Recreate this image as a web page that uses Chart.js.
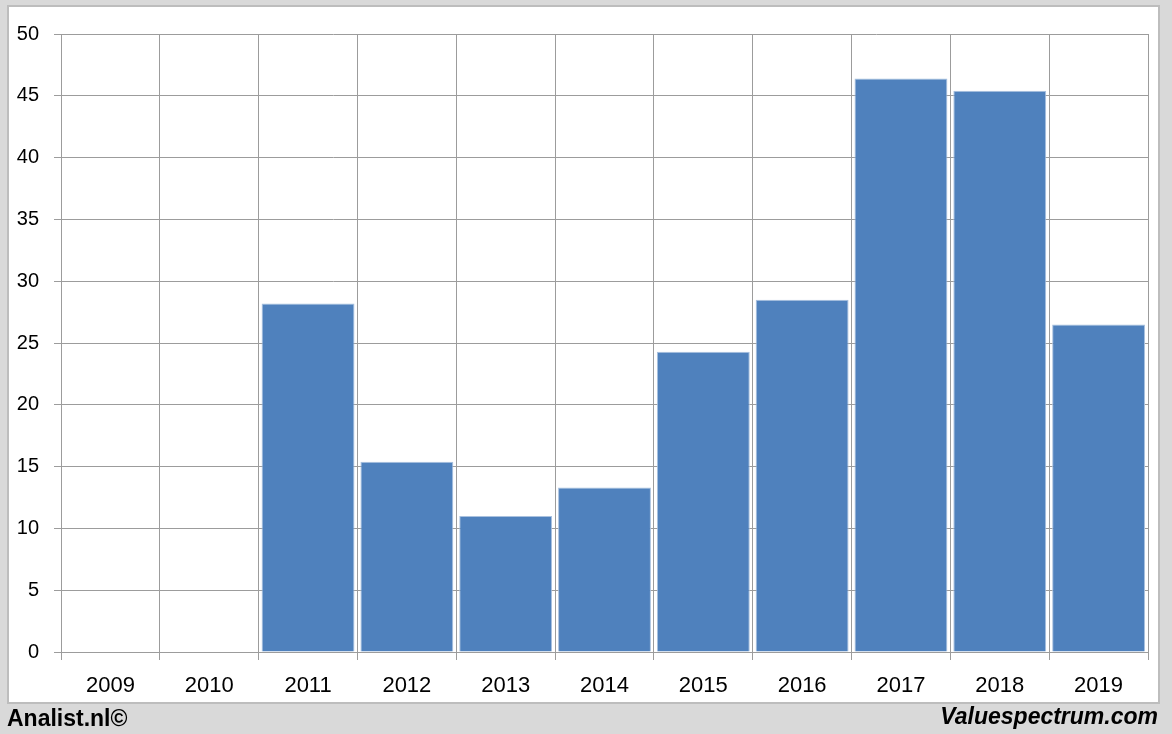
<!DOCTYPE html>
<html>
<head>
<meta charset="utf-8">
<script src="https://cdn.jsdelivr.net/npm/chart.js@4/dist/chart.umd.min.js"></script>
<style>
  html, body { margin: 0; padding: 0; background: #d9d9d9; }
  #wrap { position: relative; width: 1172px; height: 734px; }
  canvas { display: block; }
</style>
</head>
<body>
<div id="wrap"><canvas id="c" width="1172" height="734"></canvas></div>
<script>
const years = ['2009','2010','2011','2012','2013','2014','2015','2016','2017','2018','2019'];
const values = [null, null, 28.2, 15.4, 11.0, 13.3, 24.3, 28.5, 46.4, 45.4, 26.5];
const yTicks = [0, 5, 10, 15, 20, 25, 30, 35, 40, 45, 50];
const leftFooter = 'Analist.nl©';
const rightFooter = 'Valuespectrum.com';

const frame = {
  id: 'frame',
  beforeDraw(chart) {
    const ctx = chart.ctx;
    ctx.save();
    ctx.fillStyle = '#d9d9d9';
    ctx.fillRect(0, 0, chart.width, chart.height);
    ctx.fillStyle = '#ffffff';
    ctx.fillRect(8, 6, 1151, 697);
    ctx.strokeStyle = '#bdbdbd';
    ctx.lineWidth = 2;
    ctx.strokeRect(8, 6, 1151, 697);
    ctx.restore();
  },
  afterDraw(chart) {
    const ctx = chart.ctx;
    ctx.save();
    ctx.fillStyle = '#000000';
    ctx.textBaseline = 'alphabetic';
    ctx.font = 'bold 23px "Liberation Sans", Arial, sans-serif';
    ctx.textAlign = 'left';
    ctx.fillText(leftFooter, 7, 726);
    ctx.font = 'italic bold 23px "Liberation Sans", Arial, sans-serif';
    ctx.textAlign = 'right';
    ctx.fillText(rightFooter, 1158, 724);
    ctx.restore();
  }
};

new Chart(document.getElementById('c'), {
  type: 'bar',
  data: {
    labels: years,
    datasets: [{
      data: values,
      backgroundColor: '#4f81bd',
      borderColor: '#a9c1df',
      borderWidth: 1,
      categoryPercentage: 0.94,
      barPercentage: 1.0
    }]
  },
  options: {
    responsive: false,
    animation: false,
    devicePixelRatio: 1,
    layout: { padding: { left: 0, top: 34, right: 24, bottom: 0 } },
    plugins: { legend: { display: false }, tooltip: { enabled: false } },
    scales: {
      x: {
        offset: true,
        grid: { offset: true, color: '#9c9c9c', lineWidth: 1, tickLength: 8, drawTicks: true },
        border: { color: '#9c9c9c' },
        ticks: { color: '#000', font: { family: '"Liberation Sans", Arial, sans-serif', size: 22 }, padding: 13, maxRotation: 0 },
        afterFit(s) { s.height = 82; }
      },
      y: {
        min: 0, max: 50,
        afterBuildTicks(s) { s.ticks = yTicks.map(v => ({ value: v })); },
        grid: { color: '#9c9c9c', lineWidth: 1, tickLength: 7 },
        border: { color: '#9c9c9c' },
        ticks: { color: '#000', font: { family: '"Liberation Sans", Arial, sans-serif', size: 20 }, padding: 15 },
        afterFit(s) { s.width = 61; }
      }
    }
  },
  plugins: [frame]
});
</script>
</body>
</html>
